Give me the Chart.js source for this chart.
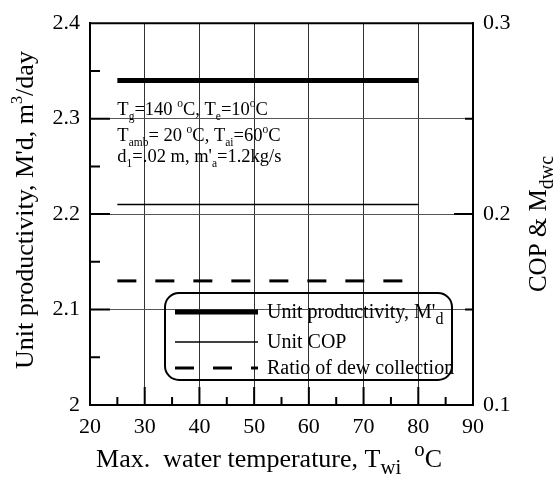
<!DOCTYPE html>
<html>
<head>
<meta charset="utf-8">
<script src="https://cdn.jsdelivr.net/npm/chart.js@4.4.1/dist/chart.umd.min.js"></script>
<style>
  html, body { margin: 0; padding: 0; background: #fff; }
  #wrap { width: 559px; height: 477px; position: relative; }
  canvas { display: block; }
</style>
</head>
<body>
<div id="wrap"><canvas id="c" width="559" height="477"></canvas></div>
<script>
// ---- Data ----
const xValues = [25, 80];                 // Max. water temperature, °C
const productivity = [2.34, 2.34];        // Unit productivity, M'd (left axis, m3/day)
const unitCOP = [0.205, 0.205];           // Unit COP (right axis)
const dewRatio = [0.165, 0.165];          // Ratio of dew collection (right axis)
const xTicks = [20, 30, 40, 50, 60, 70, 80, 90];
const yLeftTicks = [2, 2.1, 2.2, 2.3, 2.4];
const yRightTicks = [0.1, 0.2, 0.3];
const seriesNames = ["Unit productivity, M'd", "Unit COP", "Ratio of dew collection"];

const FONT = "'Liberation Serif', 'Times New Roman', serif";

function pts(xs, ys) { return xs.map((x, i) => ({ x: x, y: ys[i] })); }

// rich text: parts = [[text, 'n'|'sub'|'sup'], ...]
function richWidth(ctx, parts, size, subScale) {
  let w = 0;
  for (const [t, k] of parts) {
    const s = k === 'n' ? size : size * subScale;
    ctx.font = s + "px " + FONT;
    w += ctx.measureText(t).width;
  }
  return w;
}
function drawRich(ctx, parts, x, y, size, align, subScale) {
  subScale = subScale || 0.62;
  const w = richWidth(ctx, parts, size, subScale);
  let cx = align === 'center' ? x - w / 2 : (align === 'right' ? x - w : x);
  ctx.textAlign = 'left';
  ctx.textBaseline = 'alphabetic';
  for (const [t, k] of parts) {
    const s = k === 'n' ? size : size * subScale;
    ctx.font = s + "px " + FONT;
    let dy = 0;
    if (k === 'sub') dy = size * 0.28;
    if (k === 'sup') dy = -size * 0.42;
    ctx.fillText(t, cx, y + dy);
    cx += ctx.measureText(t).width;
  }
}

const decor = {
  id: 'decor',
  afterDraw(chart) {
    const ctx = chart.ctx;
    const a = chart.chartArea;
    const xs = chart.scales.x, yl = chart.scales.y, yr = chart.scales.y1;
    ctx.save();
    ctx.fillStyle = '#000';
    ctx.strokeStyle = '#000';
    // top border
    ctx.lineWidth = 2;
    ctx.beginPath(); ctx.moveTo(a.left - 1, a.top); ctx.lineTo(a.right + 1, a.top); ctx.stroke();
    // inward ticks
    ctx.lineWidth = 2;
    ctx.beginPath();
    for (let v = 25; v < 90; v += 5) {
      const px = xs.getPixelForValue(v);
      const len = (v % 10 === 0) ? 18 : 8;
      ctx.moveTo(px, a.bottom); ctx.lineTo(px, a.bottom - len);
    }
    for (let i = 1; i < 8; i++) {
      const v = 2 + i * 0.05;
      const py = yl.getPixelForValue(v);
      const len = (i % 2 === 0) ? 20 : 10;
      ctx.moveTo(a.left, py); ctx.lineTo(a.left + len, py);
    }
    for (let i = 1; i < 4; i++) {
      const v = 0.1 + i * 0.05;
      const py = yr.getPixelForValue(v);
      const len = (i % 2 === 0) ? 19 : 8;
      ctx.moveTo(a.right, py); ctx.lineTo(a.right - len, py);
    }
    ctx.stroke();

    // annotation text
    const lx = xs.getPixelForValue(25);
    drawRich(ctx, [['T','n'],['g','sub'],['=140 ','n'],['o','sup'],['C, T','n'],['e','sub'],['=10','n'],['o','sup'],['C','n']], lx, 115, 18.5, 'left', 0.62);
    drawRich(ctx, [['T','n'],['amb','sub'],['= 20 ','n'],['o','sup'],['C, T','n'],['ai','sub'],['=60','n'],['o','sup'],['C','n']], lx, 141, 18.5, 'left', 0.62);
    drawRich(ctx, [['d','n'],['1','sub'],['=.02 m, m\'','n'],['a','sub'],['=1.2kg/s','n']], lx, 162, 18.5, 'left', 0.62);

    // legend box
    const bx = 165, by = 293, bw = 287, bh = 87, r = 14;
    ctx.lineWidth = 2;
    ctx.beginPath();
    ctx.roundRect(bx, by, bw, bh, r);
    ctx.stroke();
    const ds = chart.data.datasets;
    const rowsY = [312, 342, 368];
    const baseY = [318, 348, 374];
    const labels = [
      [['Unit productivity, M\'','n'],['d','sub']],
      [['Unit COP','n']],
      [['Ratio of dew collection','n']]
    ];
    for (let i = 0; i < 3; i++) {
      ctx.save();
      ctx.lineWidth = ds[i].borderWidth;
      ctx.setLineDash(ds[i].borderDash || []);
      ctx.lineCap = 'butt';
      ctx.beginPath(); ctx.moveTo(175, rowsY[i]); ctx.lineTo(258, rowsY[i]); ctx.stroke();
      ctx.restore();
      drawRich(ctx, labels[i], 267, baseY[i], 20, 'left', 0.8);
    }

    // axis titles
    drawRich(ctx, [['Max.  water temperature, T','n'],['wi','sub'],['  ','n'],['o','sup'],['C','n']], 269, 467, 26, 'center', 0.8);
    ctx.save();
    ctx.translate(33, (a.top + a.bottom) / 2 - 4);
    ctx.rotate(-Math.PI / 2);
    drawRich(ctx, [['Unit productivity, M\'d, m','n'],['3','sup'],['/day','n']], 0, 0, 26, 'center', 0.62);
    ctx.restore();
    ctx.save();
    ctx.translate(546, 224);
    ctx.rotate(-Math.PI / 2);
    drawRich(ctx, [['COP & M','n'],['dwc','sub']], 0, 0, 25, 'center', 0.8);
    ctx.restore();
    ctx.restore();
  }
};

const fmt = v => String(Number(Number(v).toFixed(2)));

new Chart(document.getElementById('c'), {
  type: 'line',
  data: {
    datasets: [
      { label: seriesNames[0], data: pts(xValues, productivity), yAxisID: 'y', borderColor: '#000', borderWidth: 5, pointRadius: 0, borderCapStyle: 'butt', fill: false, tension: 0 },
      { label: seriesNames[1], data: pts(xValues, unitCOP), yAxisID: 'y1', borderColor: '#000', borderWidth: 1.5, pointRadius: 0, borderCapStyle: 'butt', fill: false, tension: 0 },
      { label: seriesNames[2], data: pts(xValues, dewRatio), yAxisID: 'y1', borderColor: '#000', borderWidth: 3, borderDash: [19, 19], pointRadius: 0, borderCapStyle: 'butt', fill: false, tension: 0 }
    ]
  },
  options: {
    responsive: false,
    animation: false,
    devicePixelRatio: 1,
    layout: { padding: { top: 22, left: 0, right: 0, bottom: 0 } },
    plugins: { legend: { display: false }, tooltip: { enabled: false }, title: { display: false } },
    scales: {
      x: {
        type: 'linear', position: 'bottom', min: xTicks[0], max: xTicks[xTicks.length - 1],
        afterFit: s => { s.height = 72; },
        afterBuildTicks: s => { s.ticks = xTicks.map(v => ({ value: v })); },
        ticks: { color: '#000', font: { family: FONT, size: 22 }, padding: 9, maxRotation: 0, callback: v => fmt(v) },
        grid: { drawTicks: false, lineWidth: 1, color: c => (c.tick && (c.tick.value === 20 || c.tick.value === 90)) ? 'rgba(0,0,0,0)' : '#333' },
        border: { display: true, color: '#000', width: 2 }
      },
      y: {
        type: 'linear', position: 'left', min: yLeftTicks[0], max: yLeftTicks[yLeftTicks.length - 1],
        afterFit: s => { s.width = 90; },
        afterBuildTicks: s => { s.ticks = yLeftTicks.map(v => ({ value: v })); },
        ticks: { color: '#000', font: { family: FONT, size: 22 }, padding: 10, callback: v => fmt(v) },
        grid: { drawTicks: false, lineWidth: 1, color: c => (c.tick && (Math.abs(c.tick.value - 2) < 1e-6 || Math.abs(c.tick.value - 2.4) < 1e-6)) ? 'rgba(0,0,0,0)' : '#555' },
        border: { display: true, color: '#000', width: 2 }
      },
      y1: {
        type: 'linear', position: 'right', min: yRightTicks[0], max: yRightTicks[yRightTicks.length - 1],
        afterFit: s => { s.width = 86; },
        afterBuildTicks: s => { s.ticks = yRightTicks.map(v => ({ value: v })); },
        ticks: { color: '#000', font: { family: FONT, size: 22 }, padding: 10, callback: v => fmt(v) },
        grid: { display: false, drawTicks: false },
        border: { display: true, color: '#000', width: 2 }
      }
    }
  },
  plugins: [decor]
});
</script>
</body>
</html>
